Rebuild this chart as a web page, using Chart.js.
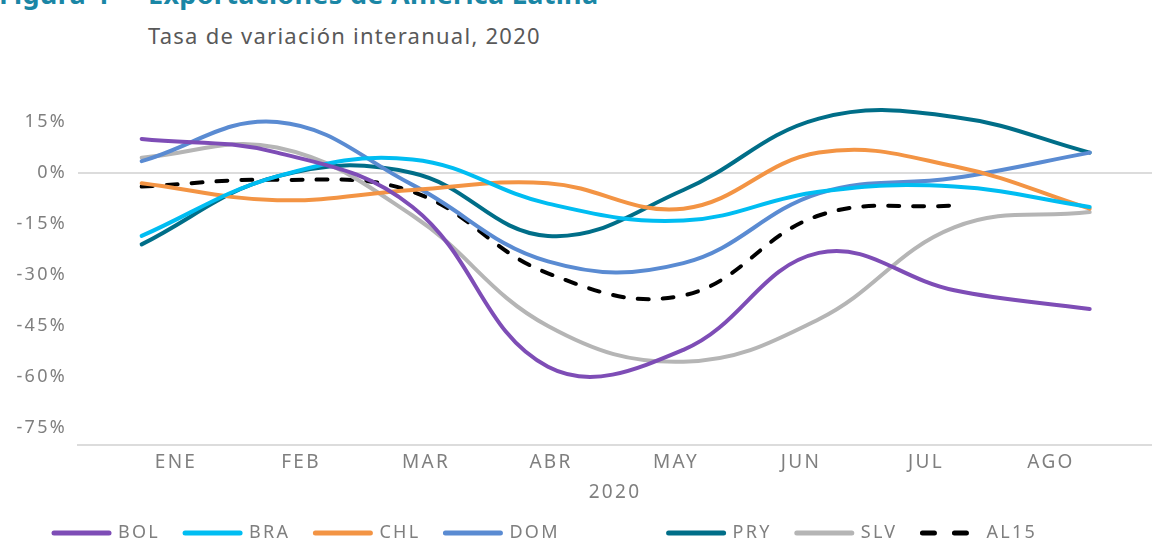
<!DOCTYPE html>
<html>
<head>
<meta charset="utf-8">
<script src="https://cdn.jsdelivr.net/npm/chart.js@4.4.0/dist/chart.umd.min.js"></script>
<style>
body { margin: 0; width: 1152px; height: 548px; overflow: hidden; background: #fff; position: relative; font-family: 'Noto Sans', sans-serif; }
.titulo { position: absolute; top: -20px; font-size: 27px; line-height: 27px; font-weight: 700; color: #1a86a5; white-space: nowrap; letter-spacing: 0.3px; }
#subtitulo { position: absolute; left: 148px; top: 24px; font-size: 22px; line-height: 22px; color: #595959; white-space: nowrap; letter-spacing: 1.25px; }
#wrap { position: absolute; left: 0; top: 0; width: 1152px; height: 548px; }
</style>
</head>
<body>
<div class="titulo" style="left:-1px">Figura 4 -</div>
<div class="titulo" style="left:148px">Exportaciones de América Latina</div>
<div id="subtitulo">Tasa de variación interanual, 2020</div>
<div id="wrap"><canvas id="grafico"></canvas></div>
<script>
meses = ["ENE", "FEB", "MAR", "ABR", "MAY", "JUN", "JUL", "AGO"];
valoresEje = [15, 0, -15, -30, -45, -60, -75];

bol  = [10, 6, -10, -57, -52, -23.5, -34.5, -40];
bra  = [-18.5, -1, 4, -9, -14, -5.5, -4, -10];
chl  = [-3, -8, -5, -3, -10.5, 6, 2, -10.5];
dom  = [3.5, 15, -3.5, -26, -26.5, -6, -1.5, 6];
pry  = [-21, -1, 0, -18.5, -5, 16, 16.5, 6];
slv  = [4.5, 7.5, -12.5, -45, -55.5, -43, -16, -11.5];
al15 = [-4, -2, -5.5, -29.5, -36, -12.5, -9.5, null];

series = [
    {label: "BOL", data: bol, color: "#7e4db6"},
    {label: "BRA", data: bra, color: "#00bdf2"},
    {label: "CHL", data: chl, color: "#f39444"},
    {label: "DOM", data: dom, color: "#5a8bd2"},
    {label: "PRY", data: pry, color: "#006e88"},
    {label: "SLV", data: slv, color: "#b5b5b5"},
    {label: "AL15", data: al15, color: "#000000", dash: true}
];

gris = "#7f7f7f";
fuente = {family: "'Noto Sans', sans-serif", size: 18};
fuenteMeses = {family: "'Noto Sans', sans-serif", size: 19};

function buildDataSet(s){
    return {
        label: s.label,
        data: s.data.map((v, i) => ({x: i, y: v})),
        borderColor: s.color,
        backgroundColor: s.color,
        borderWidth: 4,
        borderDash: s.dash ? [11, 14] : [],
        borderCapStyle: "round",
        tension: 0.4,
        pointRadius: 0,
        fill: false,
        spanGaps: false
    };
}

// letter spacing like the original typeface
espaciado = {
    id: "espaciado",
    beforeLayout: (chart) => { chart.ctx.letterSpacing = "2.3px"; },
    beforeDraw: (chart) => { chart.ctx.letterSpacing = "2.3px"; }
};

// legend starts under the plot, not at the page edge
desplazaLeyenda = {
    id: "desplazaLeyenda",
    afterLayout: (chart) => { chart.legend.left = 29; }
};

document.addEventListener("DOMContentLoaded", function() {
    var ctx = document.getElementById("grafico").getContext("2d");
    new Chart(ctx, {
        type: "line",
        data: { datasets: series.map(buildDataSet) },
        plugins: [espaciado, desplazaLeyenda],
        options: {
            responsive: true,
            maintainAspectRatio: false,
            animation: false,
            layout: { padding: { top: 105, left: 0, right: 0, bottom: -4 } },
            plugins: {
                tooltip: { enabled: false },
                legend: {
                    position: "bottom",
                    align: "start",
                    labels: {
                        usePointStyle: true,
                        pointStyleWidth: 55,
                        padding: 25,
                        color: gris,
                        font: fuente,
                        generateLabels: (chart) => chart.data.datasets.map((ds, i) => ({
                            text: ds.label == "DOM" ? ds.label + "\u00a0".repeat(12) : ds.label,
                            strokeStyle: ds.borderColor,
                            fillStyle: ds.borderColor,
                            lineWidth: 5,
                            lineCap: "round",
                            lineDash: series[i].dash ? [12, 20] : [],
                            pointStyle: "line",
                            fontColor: gris,
                            hidden: false,
                            datasetIndex: i
                        }))
                    }
                }
            },
            scales: {
                x: {
                    type: "linear",
                    display: false,
                    min: -0.47,
                    max: 7.46
                },
                meses: {
                    type: "linear",
                    position: "bottom",
                    min: -0.784,
                    max: 7.808,
                    afterBuildTicks: (scale) => { scale.ticks = meses.map((m, i) => ({value: i})); },
                    afterFit: (scale) => { scale.height = 54; },
                    grid: { display: false, drawTicks: false },
                    border: { display: true, color: "#dcdcdc", width: 2 },
                    ticks: {
                        autoSkip: false,
                        maxRotation: 0,
                        padding: 6,
                        color: gris,
                        font: fuenteMeses,
                        callback: (v) => meses[v]
                    },
                    title: { display: true, text: "2020", color: gris, font: fuenteMeses, padding: {top: 4, bottom: -5} }
                },
                y: {
                    min: -80,
                    max: 20,
                    afterBuildTicks: (scale) => { scale.ticks = valoresEje.map(v => ({value: v})); },
                    afterFit: (scale) => { scale.width = 78; },
                    border: { display: false },
                    grid: {
                        drawTicks: false,
                        lineWidth: 2,
                        color: (c) => (c.tick && c.tick.value === 0) ? "#dcdcdc" : "rgba(0,0,0,0)"
                    },
                    ticks: {
                        padding: 11,
                        color: gris,
                        font: fuente,
                        callback: (v) => v + "%"
                    }
                }
            }
        }
    });
});
</script>
</body>
</html>
